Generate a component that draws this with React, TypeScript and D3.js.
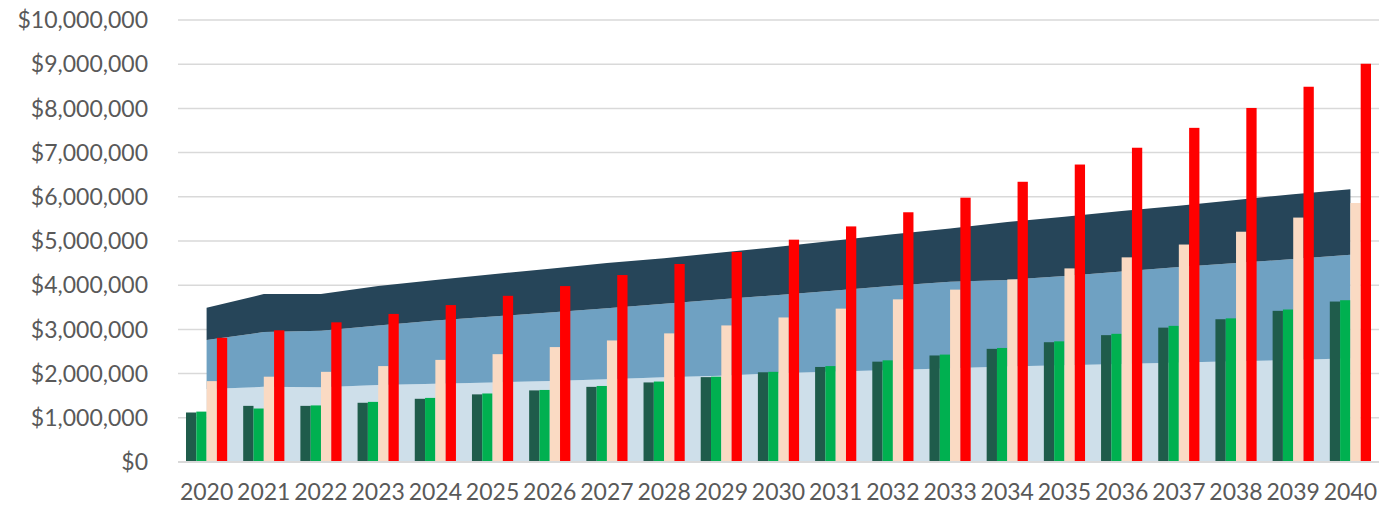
import { useEffect, useRef } from 'react';
import * as d3 from 'd3';

const years = [
  '2020', '2021', '2022', '2023', '2024', '2025', '2026', '2027', '2028', '2029', '2030',
  '2031', '2032', '2033', '2034', '2035', '2036', '2037', '2038', '2039', '2040',
];

// stacked area layers (values in $M)
const areaLow = [1.65, 1.7, 1.69, 1.74, 1.77, 1.8, 1.83, 1.87, 1.92, 1.95, 2.01, 2.05, 2.08, 2.12, 2.16, 2.19, 2.22, 2.25, 2.28, 2.31, 2.35];
const areaMid = [1.11, 1.24, 1.28, 1.35, 1.43, 1.49, 1.55, 1.61, 1.66, 1.73, 1.77, 1.83, 1.91, 1.96, 1.96, 2.02, 2.09, 2.16, 2.22, 2.28, 2.34];
const areaTop = [0.73, 0.86, 0.83, 0.89, 0.92, 0.96, 0.99, 1.02, 1.03, 1.06, 1.09, 1.13, 1.16, 1.2, 1.31, 1.34, 1.37, 1.39, 1.43, 1.47, 1.48];

// bar series (values in $M)
const barDarkGreen = [1.12, 1.27, 1.27, 1.34, 1.43, 1.53, 1.62, 1.7, 1.8, 1.92, 2.03, 2.15, 2.27, 2.41, 2.56, 2.71, 2.87, 3.04, 3.23, 3.42, 3.63];
const barGreen = [1.14, 1.21, 1.28, 1.36, 1.45, 1.55, 1.63, 1.72, 1.82, 1.93, 2.04, 2.17, 2.3, 2.43, 2.58, 2.73, 2.9, 3.08, 3.25, 3.45, 3.66];
const barPeach = [1.83, 1.93, 2.04, 2.17, 2.31, 2.44, 2.6, 2.75, 2.91, 3.09, 3.27, 3.47, 3.68, 3.9, 4.13, 4.38, 4.63, 4.92, 5.21, 5.53, 5.86];
const barRed = [2.81, 2.98, 3.16, 3.35, 3.55, 3.76, 3.98, 4.23, 4.48, 4.75, 5.03, 5.33, 5.65, 5.98, 6.34, 6.73, 7.11, 7.56, 8.01, 8.49, 9.01];

const yTicks = [0, 1, 2, 3, 4, 5, 6, 7, 8, 9, 10];

const areaColors = ['#CEDFEA', '#6FA1C2', '#264559'];
const barColors = ['#1F5C4B', '#00B050', '#FADAC3', '#FF0000'];

export default function App() {
  const ref = useRef<SVGSVGElement | null>(null);
  const width = 1379;
  const height = 507;

  useEffect(() => {
    const svg = d3.select(ref.current);
    svg.selectAll('*').remove();

    const margin = { top: 20, right: 0, bottom: 45, left: 178 };
    const innerWidth = width - margin.left - margin.right;
    const innerHeight = height - margin.top - margin.bottom;

    const x = d3.scaleBand().domain(years).range([0, innerWidth]);
    const y = d3.scaleLinear().domain([0, 10]).range([innerHeight, 0]);

    const g = svg
      .append('g')
      .attr('transform', `translate(${margin.left},${margin.top})`);

    // gridlines
    g.append('g')
      .selectAll('line')
      .data(yTicks)
      .join('line')
      .attr('x1', 0)
      .attr('x2', innerWidth)
      .attr('y1', d => y(d))
      .attr('y2', d => y(d))
      .attr('stroke', '#D9D9D9')
      .attr('stroke-width', 1.5);

    // y labels
    g.append('g')
      .selectAll('text')
      .data(yTicks)
      .join('text')
      .attr('x', -30)
      .attr('y', d => y(d))
      .attr('dy', '0.36em')
      .attr('text-anchor', 'end')
      .attr('fill', '#595959')
      .attr('font-size', 23)
      .attr('font-family', 'Lato, sans-serif')
      .text(d => (d === 0 ? '$0' : d3.format('$,')(d * 1000000)));

    // stacked areas
    const rows = years.map((yr, i) => ({ yr, a: areaLow[i], b: areaMid[i], c: areaTop[i] }));
    const stack = d3.stack<any>().keys(['a', 'b', 'c'])(rows);
    const cx = (yr: string) => x(yr)! + x.bandwidth() / 2;
    const area = d3
      .area<any>()
      .x(d => cx(d.data.yr))
      .y0(d => y(d[0]))
      .y1(d => y(d[1]));

    g.append('g')
      .selectAll('path')
      .data(stack)
      .join('path')
      .attr('fill', (_, i) => areaColors[i])
      .attr('d', area);

    // bars
    const series = [barDarkGreen, barGreen, barPeach, barRed];
    const groupW = x.bandwidth() * 0.72;
    const x1 = d3
      .scaleBand()
      .domain(['0', '1', '2', '3'])
      .range([(x.bandwidth() - groupW) / 2, (x.bandwidth() + groupW) / 2]);

    series.forEach((s, si) => {
      g.append('g')
        .selectAll('rect')
        .data(s)
        .join('rect')
        .attr('x', (_, i) => x(years[i])! + x1(String(si))!)
        .attr('width', x1.bandwidth())
        .attr('y', d => y(d))
        .attr('height', d => innerHeight - y(d))
        .attr('fill', barColors[si]);
    });

    // baseline
    g.append('line')
      .attr('x1', 0)
      .attr('x2', innerWidth)
      .attr('y1', innerHeight)
      .attr('y2', innerHeight)
      .attr('stroke', '#D9D9D9')
      .attr('stroke-width', 2);

    // x labels
    g.append('g')
      .selectAll('text')
      .data(years)
      .join('text')
      .attr('x', d => cx(d))
      .attr('y', innerHeight + 38)
      .attr('text-anchor', 'middle')
      .attr('fill', '#595959')
      .attr('font-size', 23)
      .attr('font-family', 'Lato, sans-serif')
      .text(d => d);
  }, []);

  return (
    <svg
      ref={ref}
      width={width}
      height={height}
      style={{ position: 'absolute', left: 0, top: 0, background: '#fff' }}
    ></svg>
  );
}
